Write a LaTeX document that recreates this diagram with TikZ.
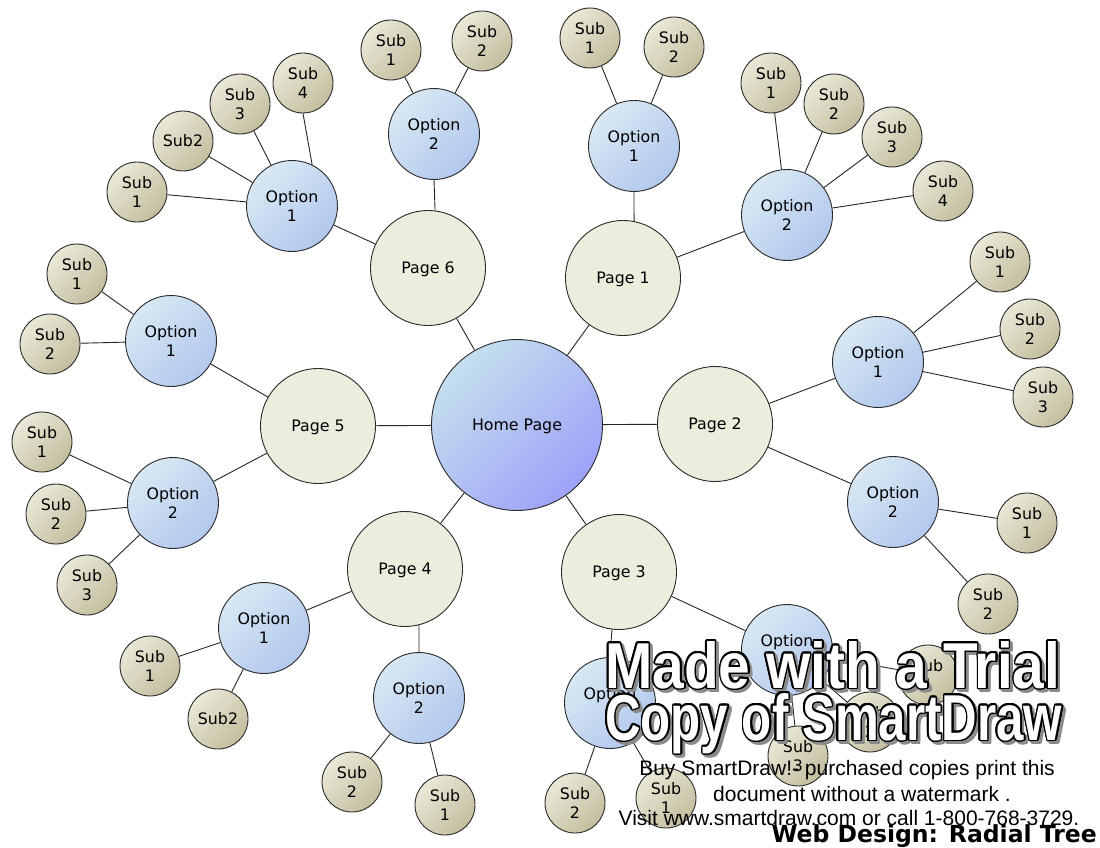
\documentclass[tikz,border=0pt]{standalone}
\usepackage{fontspec}
\usepackage{graphicx}
\setmainfont{DejaVu Sans}
\newfontfamily\notefont{Liberation Sans}
\usetikzlibrary{calc}

\definecolor{pagefill}{HTML}{EAEEDC}
\definecolor{homeA}{HTML}{C4E0EE}
\definecolor{homeB}{HTML}{9EA2F8}
\definecolor{optA}{HTML}{D8E8F3}
\definecolor{optB}{HTML}{B2C8EE}
\definecolor{subA}{HTML}{EAE8D8}
\definecolor{subB}{HTML}{C4BE9E}
\definecolor{rim}{HTML}{2A2A2A}
\definecolor{wmshadow}{HTML}{8A8A8A}

% hollow lettering: grey drop shadow, dark rim, white face
\newcommand\hollowtext[3]{%
  \foreach \d in {1,2,3}{%
    \foreach \a in {0,45,...,315}{%
      \node[wmbig,text=wmshadow] at ($(#1)+(\d pt,-\d pt)+(\a:1.5pt)$) {\resizebox{#2}{47pt}{#3}};}}
  \foreach \a in {0,22.5,...,337.5}{%
    \node[wmbig,text=black] at ($(#1)+(\a:1.6pt)$) {\resizebox{#2}{47pt}{#3}};}
  \node[wmbig,text=white] at (#1) {\resizebox{#2}{47pt}{#3}};%
}

\begin{document}
\begin{tikzpicture}[x=1pt,y=-1pt,
  bubble/.style={circle,draw=rim,line width=0.9pt,inner sep=0pt,align=center,
    font=\fontsize{15.8}{19}\selectfont,text=black},
  home/.style={bubble,text depth=0pt,minimum size=171pt,top color=homeA,bottom color=homeB,shading angle=45},
  page/.style={bubble,text depth=0pt,minimum size=115pt,fill=pagefill},
  opt/.style={bubble,minimum size=91pt,top color=optA,bottom color=optB,shading angle=45},
  leaf/.style={bubble,minimum size=60pt,top color=subA,bottom color=subB,shading angle=45},
  link/.style={line width=0.9pt,draw=black!85},
  wmbig/.style={anchor=base west,inner sep=0pt,font=\notefont\bfseries\fontsize{60}{60}\selectfont},
  note/.style={inner sep=0pt,font=\notefont\fontsize{21}{24}\selectfont},
  title/.style={anchor=base east,inner sep=0pt,font=\bfseries\fontsize{23.5}{24}\selectfont}
]
\useasboundingbox (0,0) rectangle (1100,848);
\fill[white] (0,0) rectangle (1100,848);

% centre and first ring
\node[home] (home) at (517,425) {Home Page};
\node[page] (p1) at (623,278) {Page 1};
\node[page] (p2) at (715,424) {Page 2};
\node[page] (p3) at (619,572) {Page 3};
\node[page] (p4) at (405,569) {Page 4};
\node[page] (p5) at (318,426) {Page 5};
\node[page] (p6) at (428,268) {Page 6};

% options
\node[opt] (p1a) at (634,146) {Option\\1};
\node[opt] (p1b) at (787,215) {Option\\2};
\node[opt] (p2a) at (878,362) {Option\\1};
\node[opt] (p2b) at (893,502) {Option\\2};
\node[opt] (p3a) at (787,650) {Option\\1};
\node[opt] (p3b) at (610,703) {Option\\2};
\node[opt] (p4a) at (264,628) {Option\\1};
\node[opt] (p4b) at (419,698) {Option\\2};
\node[opt] (p5a) at (171,341) {Option\\1};
\node[opt] (p5b) at (173,503) {Option\\2};
\node[opt] (p6a) at (292,206) {Option\\1};
\node[opt] (p6b) at (434,134) {Option\\2};

% leaves
\node[leaf] (p1a1) at (590,38) {Sub\\1};
\node[leaf] (p1a2) at (674,47) {Sub\\2};
\node[leaf] (p1b1) at (771,83) {Sub\\1};
\node[leaf] (p1b2) at (834,104) {Sub\\2};
\node[leaf] (p1b3) at (892,137) {Sub\\3};
\node[leaf] (p1b4) at (943,191) {Sub\\4};
\node[leaf] (p2a1) at (1000,262) {Sub\\1};
\node[leaf] (p2a2) at (1030,329) {Sub\\2};
\node[leaf] (p2a3) at (1043,397) {Sub\\3};
\node[leaf] (p2b1) at (1027,523) {Sub\\1};
\node[leaf] (p2b2) at (988,604) {Sub\\2};
\node[leaf] (p3a1) at (928,675) {Sub\\1};
\node[leaf] (p3a2) at (870,722) {Sub\\2};
\node[leaf] (p3a3) at (798,756) {Sub\\3};
\node[leaf] (p3b1) at (666,798) {Sub\\1};
\node[leaf] (p3b2) at (575,803) {Sub\\2};
\node[leaf] (p4a1) at (150,666) {Sub\\1};
\node[leaf] (p4a2) at (218,719) {Sub2};
\node[leaf] (p4b1) at (445,805) {Sub\\1};
\node[leaf] (p4b2) at (352,782) {Sub\\2};
\node[leaf] (p5a1) at (77,274) {Sub\\1};
\node[leaf] (p5a2) at (50,344) {Sub\\2};
\node[leaf] (p5b1) at (42,442) {Sub\\1};
\node[leaf] (p5b2) at (56,514) {Sub\\2};
\node[leaf] (p5b3) at (87,585) {Sub\\3};
\node[leaf] (p6a1) at (137,192) {Sub\\1};
\node[leaf] (p6a2) at (183,141) {Sub2};
\node[leaf] (p6a3) at (240,104) {Sub\\3};
\node[leaf] (p6a4) at (303,83) {Sub\\4};
\node[leaf] (p6b1) at (391,50) {Sub\\1};
\node[leaf] (p6b2) at (482,41) {Sub\\2};

% connectors
\foreach \p in {p1,p2,p3,p4,p5,p6} \draw[link] (home) -- (\p);
\draw[link] (p1a.south) -- (p1.79);
\draw[link] (p1) -- (p1b);
\draw[link] (p2) -- (p2a);
\draw[link] (p2) -- (p2b);
\draw[link] (p3) -- (p3a);
\draw[link] (p3.-97) -- (p3b.north);
\draw[link] (p4) -- (p4a);
\draw[link] (p4.-76) -- (p4b.north);
\draw[link] (p5) -- (p5a);
\draw[link] (p5) -- (p5b);
\draw[link] (p6) -- (p6a);
\draw[link] (p6b.south) -- (p6.83);

\foreach \o/\n in {p1a/2,p1b/4,p2a/3,p2b/2,p3a/3,p3b/2,p4a/2,p4b/2,p5a/2,p5b/3,p6a/3,p6b/2}
  \foreach \k in {1,...,\n} \draw[link] (\o) -- (\o\k);
\draw[link] (p6a4.south) -- (p6a.64);

% trial watermark
\coordinate (wm1) at (605,688);
\coordinate (wm2) at (605,740);
\hollowtext{wm1}{455pt}{Made with a Trial}
\hollowtext{wm2}{457pt}{Copy of SmartDraw}
\node[note] (wmnote1) at (847,770) {Buy SmartDraw!- purchased copies print this};
\node[note] (wmnote2) at (862,794) {document without a watermark .};
\node[note] (wmnote3) at (849,818) {Visit www.smartdraw.com or call 1-800-768-3729.};

\node[title] (title) at (1097,842) {Web Design: Radial Tree};
\end{tikzpicture}
\end{document}
